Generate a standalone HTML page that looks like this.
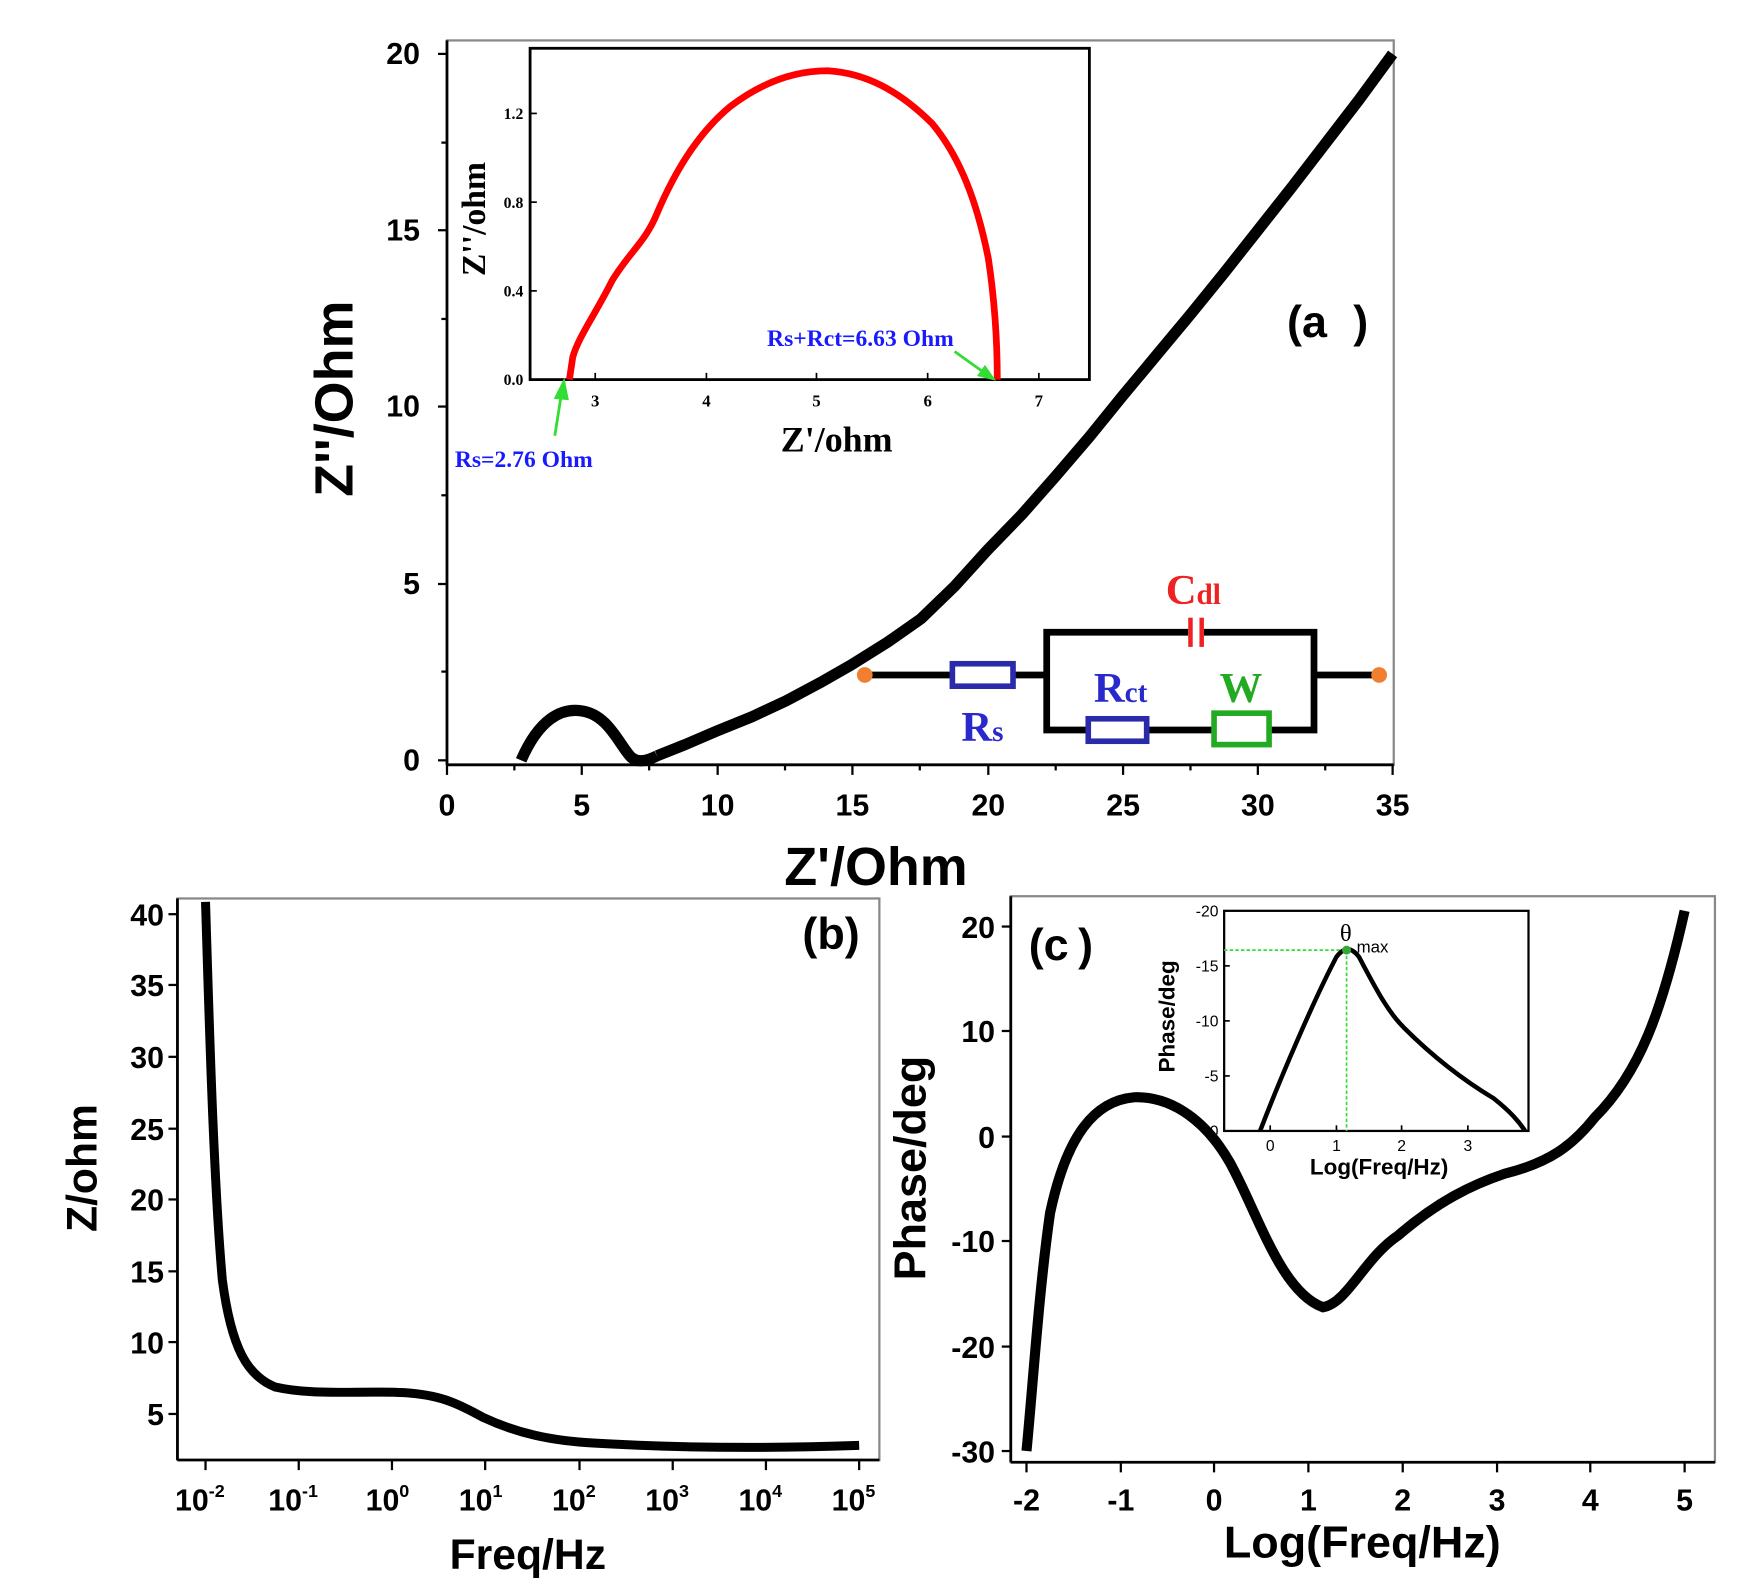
<!DOCTYPE html>
<html><head><meta charset="utf-8"><style>
html,body{margin:0;padding:0;background:#fff;}
svg{display:block}
.s{font-family:"Liberation Sans",sans-serif;font-weight:bold;}
.r{font-family:"Liberation Serif",serif;font-weight:bold;}
</style></head><body>
<svg width="1752" height="1594" viewBox="0 0 1560 1419.3" preserveAspectRatio="none" xmlns="http://www.w3.org/2000/svg">
<rect width="1560" height="1420" fill="#fff"/>
<!-- Panel a -->
<rect x="398" y="36" width="843" height="645" fill="none" stroke="#888" stroke-width="2"/>
<line x1="398" y1="36" x2="398" y2="681" stroke="#000" stroke-width="2.5"/>
<line x1="398" y1="681" x2="1241" y2="681" stroke="#000" stroke-width="2.5"/>
<g stroke="#000" stroke-width="2">
<line x1="390" y1="677" x2="398" y2="677"/><line x1="390" y1="520" x2="398" y2="520"/><line x1="390" y1="362" x2="398" y2="362"/><line x1="390" y1="205" x2="398" y2="205"/><line x1="390" y1="48" x2="398" y2="48"/>
<line x1="393" y1="598" x2="398" y2="598"/><line x1="393" y1="441" x2="398" y2="441"/><line x1="393" y1="284" x2="398" y2="284"/><line x1="393" y1="127" x2="398" y2="127"/>
<line x1="398" y1="681" x2="398" y2="690"/><line x1="518" y1="681" x2="518" y2="690"/><line x1="639" y1="681" x2="639" y2="690"/><line x1="759" y1="681" x2="759" y2="690"/><line x1="880" y1="681" x2="880" y2="690"/><line x1="1000" y1="681" x2="1000" y2="690"/><line x1="1120" y1="681" x2="1120" y2="690"/><line x1="1240" y1="681" x2="1240" y2="690"/>
<line x1="458" y1="681" x2="458" y2="686"/><line x1="578" y1="681" x2="578" y2="686"/><line x1="699" y1="681" x2="699" y2="686"/><line x1="819" y1="681" x2="819" y2="686"/><line x1="940" y1="681" x2="940" y2="686"/><line x1="1060" y1="681" x2="1060" y2="686"/><line x1="1180" y1="681" x2="1180" y2="686"/>
</g>
<g class="s" font-size="27" text-anchor="end">
<text x="374" y="686">0</text><text x="374" y="529">5</text><text x="374" y="371">10</text><text x="374" y="214">15</text><text x="374" y="57">20</text></g>
<g class="s" font-size="27" text-anchor="middle">
<text x="398" y="726">0</text><text x="518" y="726">5</text><text x="639" y="726">10</text><text x="759" y="726">15</text><text x="880" y="726">20</text><text x="1000" y="726">25</text><text x="1120" y="726">30</text><text x="1240" y="726">35</text></g>
<text class="s" font-size="48" text-anchor="middle" x="780" y="788">Z'/Ohm</text>
<text class="s" font-size="48" text-anchor="middle" transform="translate(314,355) rotate(-90)">Z''/Ohm</text>
<path d="M464,677 C480,640 500,630 518,633 C540,636 550,660 560,672 C566,680 575,678 585,673" fill="none" stroke="#000" stroke-width="10"/>
<polyline points="585,673 610,663 638,651 670,638 700,624 730,608 758,592 790,572 820,551 850,522 879,490 910,458 940,424 970,389 1000,352 1030,316 1060,280 1090,243 1120,205 1150,167 1180,128 1210,89 1240,48" fill="none" stroke="#000" stroke-width="10" stroke-linejoin="round"/>
<text class="s" font-size="40" x="1146" y="300">(a</text><text class="s" font-size="40" x="1205" y="300">)</text>
<!-- inset a -->
<rect x="472" y="43" width="498" height="295" fill="#fff" stroke="#000" stroke-width="2.5"/>
<g stroke="#000" stroke-width="1.5">
<line x1="472" y1="101" x2="478" y2="101"/><line x1="472" y1="180" x2="478" y2="180"/><line x1="472" y1="259" x2="478" y2="259"/>
<line x1="530" y1="338" x2="530" y2="332"/><line x1="629" y1="338" x2="629" y2="332"/><line x1="727" y1="338" x2="727" y2="332"/><line x1="826" y1="338" x2="826" y2="332"/><line x1="925" y1="338" x2="925" y2="332"/>
</g>
<g class="r" font-size="14" text-anchor="end" font-weight="normal">
<text x="466" y="343">0.0</text><text x="466" y="264">0.4</text><text x="466" y="185">0.8</text><text x="466" y="106">1.2</text></g>
<g class="r" font-size="15" text-anchor="middle">
<text x="530" y="362">3</text><text x="629" y="362">4</text><text x="727" y="362">5</text><text x="826" y="362">6</text><text x="925" y="362">7</text></g>
<text class="r" font-size="32" x="745" y="402" text-anchor="middle">Z'/ohm</text>
<text class="r" font-size="30" text-anchor="middle" transform="translate(432,195) rotate(-90)">Z''/ohm</text>
<path d="M507,338 L510,318 C515,300 530,280 545,250 C560,225 575,215 585,190 C600,155 620,120 650,95 C680,72 710,63 737,63 C770,65 800,80 830,110 C855,140 870,180 880,230 C886,270 888,310 888,338" fill="none" stroke="#f00" stroke-width="6"/>
<text class="r" font-size="21" fill="#1a1aff" x="683" y="308">Rs+Rct=6.63 Ohm</text>
<text class="r" font-size="21" fill="#1a1aff" x="405" y="416">Rs=2.76 Ohm</text>
<g stroke="#33dd33" stroke-width="2.5" fill="#33dd33">
<line x1="850" y1="313" x2="878" y2="333"/><polygon points="884,337 872,334 877,327"/>
<line x1="494" y1="388" x2="500" y2="350"/><polygon points="502,340 495,354 505,355"/>
</g>
<!-- circuit -->
<g stroke="#000" stroke-width="6" fill="none">
<line x1="770" y1="601" x2="847" y2="601"/><line x1="902" y1="601" x2="932" y2="601"/>
<polyline points="1058,563 932,563 932,650 968,650"/><polyline points="1072,563 1170,563 1170,650 1130,650"/>
<line x1="1022" y1="650" x2="1080" y2="650"/><line x1="1170" y1="601" x2="1228" y2="601"/>
</g>
<rect x="848" y="591" width="54" height="20" fill="#fff" stroke="#2a2aaa" stroke-width="5"/>
<rect x="969" y="640" width="52" height="20" fill="#fff" stroke="#2a2aaa" stroke-width="5"/>
<rect x="1081" y="635" width="49" height="28" fill="#fff" stroke="#22aa22" stroke-width="5"/>
<g stroke="#e22" stroke-width="4"><line x1="1060" y1="550" x2="1060" y2="576"/><line x1="1070" y1="550" x2="1070" y2="576"/></g>
<circle cx="770" cy="601" r="7" fill="#f08030"/><circle cx="1228" cy="601" r="7" fill="#f08030"/>
<text class="r" font-size="38" fill="#ee2222" x="1038" y="538">C<tspan font-size="26">dl</tspan></text>
<text class="r" font-size="38" fill="#2a2acc" x="974" y="625">R<tspan font-size="26">ct</tspan></text>
<text class="r" font-size="38" fill="#22aa22" x="1086" y="625">W</text>
<text class="r" font-size="38" fill="#2a2acc" x="856" y="660">R<tspan font-size="26">s</tspan></text>
<!-- Panel b -->
<rect x="158" y="800" width="625" height="500" fill="none" stroke="#888" stroke-width="2"/>
<line x1="158" y1="800" x2="158" y2="1300" stroke="#000" stroke-width="2.5"/>
<line x1="158" y1="1300" x2="783" y2="1300" stroke="#000" stroke-width="2.5"/>
<g stroke="#000" stroke-width="2">
<line x1="150" y1="814" x2="158" y2="814"/><line x1="150" y1="877" x2="158" y2="877"/><line x1="150" y1="941" x2="158" y2="941"/><line x1="150" y1="1005" x2="158" y2="1005"/><line x1="150" y1="1068" x2="158" y2="1068"/><line x1="150" y1="1132" x2="158" y2="1132"/><line x1="150" y1="1195" x2="158" y2="1195"/><line x1="150" y1="1259" x2="158" y2="1259"/>
<line x1="183" y1="1300" x2="183" y2="1309"/><line x1="266" y1="1300" x2="266" y2="1309"/><line x1="349" y1="1300" x2="349" y2="1309"/><line x1="432" y1="1300" x2="432" y2="1309"/><line x1="516" y1="1300" x2="516" y2="1309"/><line x1="599" y1="1300" x2="599" y2="1309"/><line x1="682" y1="1300" x2="682" y2="1309"/><line x1="765" y1="1300" x2="765" y2="1309"/>
</g>
<g class="s" font-size="27" text-anchor="end">
<text x="146" y="824">40</text><text x="146" y="887">35</text><text x="146" y="951">30</text><text x="146" y="1015">25</text><text x="146" y="1078">20</text><text x="146" y="1142">15</text><text x="146" y="1205">10</text><text x="146" y="1269">5</text></g>
<g class="s" font-size="27" text-anchor="middle">
<text x="178" y="1345">10<tspan font-size="16" dy="-12">-2</tspan></text>
<text x="261" y="1345">10<tspan font-size="16" dy="-12">-1</tspan></text>
<text x="345" y="1345">10<tspan font-size="16" dy="-12">0</tspan></text>
<text x="428" y="1345">10<tspan font-size="16" dy="-12">1</tspan></text>
<text x="511" y="1345">10<tspan font-size="16" dy="-12">2</tspan></text>
<text x="594" y="1345">10<tspan font-size="16" dy="-12">3</tspan></text>
<text x="677" y="1345">10<tspan font-size="16" dy="-12">4</tspan></text>
<text x="760" y="1345">10<tspan font-size="16" dy="-12">5</tspan></text></g>
<text class="s" font-size="38" text-anchor="middle" x="470" y="1397">Freq/Hz</text>
<text class="s" font-size="38" text-anchor="middle" transform="translate(86,1040) rotate(-90)">Z/ohm</text>
<text class="s" font-size="40" text-anchor="middle" x="740" y="845">(b)</text>
<path d="M183,803 C186,900 190,1050 198,1140 C206,1200 220,1225 245,1235 C280,1243 320,1238 360,1240 C390,1242 405,1248 430,1262 C460,1276 490,1283 530,1285 C600,1289 680,1290 765,1287" fill="none" stroke="#000" stroke-width="8"/>
<!-- Panel c -->
<rect x="900" y="798" width="627" height="504" fill="none" stroke="#888" stroke-width="2"/>
<line x1="900" y1="798" x2="900" y2="1302" stroke="#000" stroke-width="2.5"/>
<line x1="900" y1="1302" x2="1527" y2="1302" stroke="#000" stroke-width="2.5"/>
<g stroke="#000" stroke-width="2">
<line x1="892" y1="825" x2="900" y2="825"/><line x1="892" y1="918" x2="900" y2="918"/><line x1="892" y1="1012" x2="900" y2="1012"/><line x1="892" y1="1105" x2="900" y2="1105"/><line x1="892" y1="1199" x2="900" y2="1199"/><line x1="892" y1="1292" x2="900" y2="1292"/>
<line x1="914" y1="1302" x2="914" y2="1311"/><line x1="998" y1="1302" x2="998" y2="1311"/><line x1="1081" y1="1302" x2="1081" y2="1311"/><line x1="1165" y1="1302" x2="1165" y2="1311"/><line x1="1249" y1="1302" x2="1249" y2="1311"/><line x1="1333" y1="1302" x2="1333" y2="1311"/><line x1="1416" y1="1302" x2="1416" y2="1311"/><line x1="1500" y1="1302" x2="1500" y2="1311"/>
</g>
<g class="s" font-size="27" text-anchor="end">
<text x="886" y="835">20</text><text x="886" y="928">10</text><text x="886" y="1022">0</text><text x="886" y="1115">-10</text><text x="886" y="1209">-20</text><text x="886" y="1302">-30</text></g>
<g class="s" font-size="27" text-anchor="middle">
<text x="914" y="1345">-2</text><text x="998" y="1345">-1</text><text x="1081" y="1345">0</text><text x="1165" y="1345">1</text><text x="1249" y="1345">2</text><text x="1333" y="1345">3</text><text x="1416" y="1345">4</text><text x="1500" y="1345">5</text></g>
<text class="s" font-size="40" text-anchor="middle" x="1213" y="1387">Log(Freq/Hz)</text>
<text class="s" font-size="40" text-anchor="middle" transform="translate(824,1040) rotate(-90)">Phase/deg</text>
<text class="s" font-size="40" x="916" y="855">(c</text><text class="s" font-size="40" x="960" y="855">)</text>
<path d="M914,1292 C920,1230 925,1150 935,1080 C950,1010 975,980 1010,977 C1045,976 1075,1000 1095,1035 C1120,1080 1140,1150 1178,1164 C1200,1160 1215,1120 1245,1100 C1280,1070 1310,1055 1340,1045 C1380,1035 1400,1020 1420,995 C1460,955 1480,900 1500,811" fill="none" stroke="#000" stroke-width="9"/>
<!-- inset c -->
<rect x="1090" y="811" width="271" height="196" fill="#fff" stroke="#000" stroke-width="2"/>
<g stroke="#000" stroke-width="1.5">
<line x1="1090" y1="860" x2="1095" y2="860"/><line x1="1090" y1="909" x2="1095" y2="909"/><line x1="1090" y1="958" x2="1095" y2="958"/>
<line x1="1131" y1="1007" x2="1131" y2="1002"/><line x1="1190" y1="1007" x2="1190" y2="1002"/><line x1="1248" y1="1007" x2="1248" y2="1002"/><line x1="1307" y1="1007" x2="1307" y2="1002"/>
</g>
<g font-family="Liberation Sans,sans-serif" font-size="14" text-anchor="end">
<text x="1085" y="816">-20</text><text x="1085" y="865">-15</text><text x="1085" y="914">-10</text><text x="1085" y="963">-5</text><text x="1085" y="1012">0</text></g>
<g font-family="Liberation Sans,sans-serif" font-size="14" text-anchor="middle">
<text x="1131" y="1025">0</text><text x="1190" y="1025">1</text><text x="1248" y="1025">2</text><text x="1307" y="1025">3</text></g>
<text class="s" font-size="20" text-anchor="middle" x="1228" y="1046">Log(Freq/Hz)</text>
<text class="s" font-size="20" text-anchor="middle" transform="translate(1046,905) rotate(-90)">Phase/deg</text>
<g stroke="#33dd33" stroke-width="1.5" stroke-dasharray="3,2"><line x1="1090" y1="846" x2="1199" y2="846"/><line x1="1199" y1="846" x2="1199" y2="1007"/></g>
<path d="M1122,1007 C1140,960 1170,890 1190,852 C1197,843 1203,843 1210,852 C1225,880 1235,900 1250,915 C1275,940 1300,960 1330,978 C1345,990 1352,998 1358,1007" fill="none" stroke="#000" stroke-width="4"/>
<circle cx="1199" cy="846" r="4" fill="#33aa33"/>
<text font-family="Liberation Serif,serif" font-size="22" x="1193" y="838">θ</text>
<text font-family="Liberation Sans,sans-serif" font-size="15" x="1208" y="848">max</text>
</svg>
</body></html>
